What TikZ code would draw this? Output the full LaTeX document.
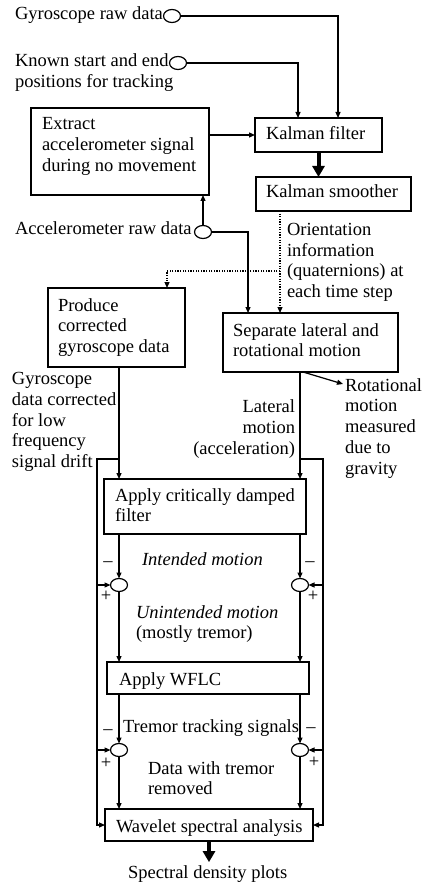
\documentclass[tikz,border=0pt]{standalone}
\usepackage{fontspec}
\setmainfont{Liberation Serif}
\usetikzlibrary{arrows.meta,shapes.geometric}
\begin{document}
\begin{tikzpicture}[x=1pt,y=-1pt,
  every node/.style={inner sep=0pt, outer sep=0pt},
  txt/.style={font=\fontsize{18.5}{20.7}\selectfont, align=left, anchor=base west},
  box/.style={draw, line width=1.2pt, anchor=north west},
  port/.style={draw, ellipse, line width=1.2pt, minimum width=17pt, minimum height=13pt, fill=white},
  ln/.style={line width=1.2pt},
  arr/.style={line width=1.2pt, -{Triangle[length=6pt,width=5pt]}},
  dotarr/.style={line width=1.2pt, dash pattern=on 1.2pt off 1.4pt, -{Triangle[length=6pt,width=5pt]}},
  bigarr/.style={line width=4pt, -{Triangle[length=11pt,width=12pt]}}
]
\useasboundingbox (0,0) rectangle (423,885);
% boxes
\node[box, minimum width=178pt, minimum height=87pt] (ext) at (31,108) {};
\node[box, minimum width=127pt, minimum height=34pt] (kf) at (255,118) {};
\node[box, minimum width=155pt, minimum height=34pt] (ks) at (256,177) {};
\node[box, minimum width=137pt, minimum height=79pt] (prod) at (48,288) {};
\node[box, minimum width=175pt, minimum height=59pt] (sep) at (223,313) {};
\node[box, minimum width=202pt, minimum height=55pt] (acd) at (104,479) {};
\node[box, minimum width=202pt, minimum height=32pt] (wflc) at (107,662) {};
\node[box, minimum width=208pt, minimum height=32pt] (wav) at (105,809) {};
% texts (multi-line nodes are placed by the baseline of their last line)
\node[txt] (gyrt) at (15,19.5) {Gyroscope raw data};
\node[txt] (knt) at (15,87.5) {Known start and end\\positions for tracking};
\node[txt] (extt) at (42,171.4) {Extract\\accelerometer signal\\during no movement};
\node[txt] (kft) at (266,140) {Kalman filter};
\node[txt] (kst) at (266,198) {Kalman smoother};
\node[txt] (acct) at (15,235) {Accelerometer raw data};
\node[txt] (ort) at (287,297.5) {Orientation\\information\\(quaternions) at\\each time step};
\node[txt] (prodt) at (58,352.5) {Produce\\corrected\\gyroscope data};
\node[txt] (sept) at (233,356.7) {Separate lateral and\\rotational motion};
\node[txt] (gyct) at (12,467.5) {Gyroscope\\data corrected\\for low\\frequency\\signal drift};
\node[txt] (rott) at (345,474) {Rotational\\motion\\measured\\due to\\gravity};
\node[txt, align=right, anchor=base east] (latt) at (295,454) {Lateral\\motion\\(acceleration)};
\node[txt] (acdt) at (115,521.7) {Apply critically damped\\filter};
\node[txt] (intt) at (142,565) {\itshape Intended motion};
\node[txt] (unt) at (136,638.7) {\textit{Unintended motion}\\(mostly tremor)};
\node[txt] (wflct) at (119,685) {Apply WFLC};
\node[txt] (trt) at (123,732) {Tremor tracking signals};
\node[txt] (dwt) at (148,794.7) {Data with tremor\\removed};
\node[txt] (wavt) at (116,832) {Wavelet spectral analysis};
\node[txt] (spt) at (128,878) {Spectral density plots};
% signs
\node[txt, anchor=center] (m1) at (108,564) {–};
\node[txt, anchor=center] (m2) at (310,564) {–};
\node[txt, anchor=center] (m3) at (108,732) {–};
\node[txt, anchor=center] (m4) at (311,730) {–};
\node[txt, anchor=center] (p1) at (106,596) {+};
\node[txt, anchor=center] (p2) at (313,596) {+};
\node[txt, anchor=center] (p3) at (106,763) {+};
\node[txt, anchor=center] (p4) at (314,762) {+};
% ports and summing junctions
\node[port] (gyr) at (172,16) {};
\node[port] (kn) at (178,63) {};
\node[port] (acc) at (203,232) {};
\node[port] (c1) at (119,585) {};
\node[port] (c2) at (300,585) {};
\node[port] (c3) at (119,750) {};
\node[port] (c4) at (300,750) {};
% guide coordinates
\coordinate (L) at (119,0);
\coordinate (R) at (300,0);
\coordinate (LL) at (97,0);
\coordinate (RR) at (323,0);
\coordinate (gx) at (338,0);
\coordinate (kx) at (298,0);
\coordinate (ax) at (248,0);
\coordinate (dk) at (280,211);
\coordinate (dj) at (280,271);
\coordinate (px) at (167,0);
\coordinate (brL) at (119,459);
\coordinate (brR) at (300,459);
\coordinate (rotA) at (343,384);
\coordinate (rotS) at (303,372);
% connectors
\draw[arr] (gyr.east) -| (gx |- kf.north);
\draw[arr] (kn.east) -| (kx |- kf.north);
\draw[arr] (ext.east |- kf.west) -- (kf.west);
\draw[bigarr] (kf.south) -- (kf.south |- ks.north);
\draw[arr] (acc.north) -- (acc.north |- ext.south);
\draw[arr] (acc.east) -| (ax |- sep.north);
\draw[dotarr] (dk) -- (dk |- sep.north);
\draw[dotarr] (dj) -| (px |- prod.north);
\draw[arr] (L |- prod.south) -- (L |- acd.north);
\draw[arr] (R |- sep.south) -- (R |- acd.north);
\draw[arr] (rotS) -- (rotA);
\draw[arr] (brL) -| (LL |- wav.west) -- (wav.west);
\draw[arr] (brR) -| (RR |- wav.east) -- (wav.east);
\draw[arr] (L |- acd.south) -- (c1.north);
\draw[arr] (R |- acd.south) -- (c2.north);
\draw[arr] (LL |- c1) -- (c1.west);
\draw[arr] (RR |- c2) -- (c2.east);
\draw[arr] (c1.south) -- (L |- wflc.north);
\draw[arr] (c2.south) -- (R |- wflc.north);
\draw[arr] (L |- wflc.south) -- (c3.north);
\draw[arr] (R |- wflc.south) -- (c4.north);
\draw[arr] (LL |- c3) -- (c3.west);
\draw[arr] (RR |- c4) -- (c4.east);
\draw[arr] (c3.south) -- (L |- wav.north);
\draw[arr] (c4.south) -- (R |- wav.north);
\draw[bigarr, shorten >=3pt] (wav.south) -- (wav.south |- spt.north);
\end{tikzpicture}
\end{document}
